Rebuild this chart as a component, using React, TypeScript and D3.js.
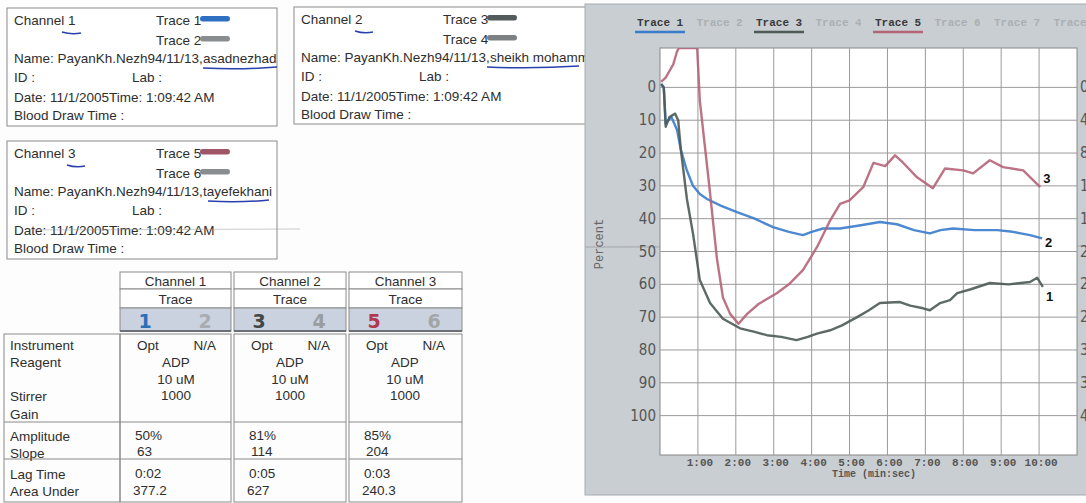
import React from 'react';
import * as d3 from 'd3';

// ---- chart data ----
const trace1Time = [0.03, 0.1, 0.15, 0.3, 0.45, 0.55, 0.7, 0.87, 1.05, 1.24, 1.6, 2.03, 2.5, 2.98, 3.4, 3.77, 4.0, 4.3, 4.75, 5.3, 5.8, 6.25, 6.7, 7.12, 7.4, 7.73, 8.3, 8.9, 9.3, 9.76, 10.08];
const trace1Pct = [-1, 0, 11, 9, 13, 19, 25, 30, 32.5, 34, 36, 38, 40, 42.6, 44, 45, 44, 43, 43, 42, 41, 41.7, 43.5, 44.5, 43.5, 43, 43.5, 43.5, 44, 45, 46];

const trace3Time = [0.03, 0.1, 0.15, 0.25, 0.4, 0.48, 0.55, 0.71, 0.87, 1.05, 1.32, 1.66, 2.11, 2.5, 2.82, 3.2, 3.6, 3.9, 4.14, 4.49, 4.8, 5.2, 5.5, 5.8, 6.33, 6.6, 6.94, 7.12, 7.39, 7.65, 7.84, 8.2, 8.7, 9.2, 9.76, 9.95, 10.1];
const trace3Pct = [-1, 0, 12, 9, 8, 10, 19, 34, 44.5, 58.7, 65.7, 70.5, 73.4, 74.5, 75.5, 76, 77, 76, 75, 74, 72.5, 70, 68, 65.7, 65.4, 66.5, 67.3, 67.9, 65.7, 64.8, 62.7, 61.5, 59.6, 60, 59.3, 58, 60.8];

const trace5Time = [0.03, 0.15, 0.25, 0.35, 0.45, 0.5, 0.98, 1.05, 1.3, 1.5, 1.66, 1.85, 2.07, 2.3, 2.6, 3.08, 3.4, 3.77, 4.14, 4.49, 4.75, 5.0, 5.36, 5.63, 5.94, 6.2, 6.4, 6.78, 7.2, 7.52, 8.0, 8.26, 8.7, 9.05, 9.58, 10.03];
const trace5Pct = [-1.7, -3, -5, -7, -11, -12, -12, 4, 30, 52, 64, 69, 72, 69, 66, 62.7, 60, 55.7, 48.7, 40.5, 35.5, 34.4, 30.4, 23, 24, 20.7, 22.8, 27.4, 30.7, 24.7, 25.3, 26.2, 22.2, 24.3, 25.3, 30.4];

const endLabels = ['2', '1', '3']; // labels printed next to trace 1, trace 3, trace 5 ends

const xTickValues = [1, 2, 3, 4, 5, 6, 7, 8, 9, 10];
const xTickLabels = ['1:00', '2:00', '3:00', '4:00', '5:00', '6:00', '7:00', '8:00', '9:00', '10:00'];
const yTickValues = [0, 10, 20, 30, 40, 50, 60, 70, 80, 90, 100];
const rightTickLabels = ['0', '4', '8', '12', '16', '20', '24', '28', '32', '36', '40'];
const legendLabels = ['Trace 1', 'Trace 2', 'Trace 3', 'Trace 4', 'Trace 5', 'Trace 6', 'Trace 7', 'Trace 8'];
const legendActive = [true, false, true, false, true, false, false, false];

// ---- header boxes ----
const channelNames = ['asadnezhad', 'sheikh mohammadi', 'tayefekhani'];
const channelTraces = [['Trace 1', 'Trace 2'], ['Trace 3', 'Trace 4'], ['Trace 5', 'Trace 6']];

// ---- table ----
const tableChannels = ['Channel 1', 'Channel 2', 'Channel 3'];
const traceNumbers = [['1', '2'], ['3', '4'], ['5', '6']];
const rowLabels = ['Instrument', 'Reagent', 'Stirrer', 'Gain', 'Amplitude', 'Slope', 'Lag Time', 'Area Under'];
const instruments = ['Opt', 'Opt', 'Opt'];
const instruments2 = ['N/A', 'N/A', 'N/A'];
const reagents = ['ADP', 'ADP', 'ADP'];
const concentrations = ['10 uM', '10 uM', '10 uM'];
const stirrers = ['1000', '1000', '1000'];
const amplitudes = ['50%', '81%', '85%'];
const slopes = ['63', '114', '204'];
const lagTimes = ['0:02', '0:05', '0:03'];
const areasUnder = ['377.2', '627', '240.3'];

const SANS = "'Liberation Sans', Arial, sans-serif";
const MONO = "'Liberation Mono', 'DejaVu Sans Mono', monospace";
const NARROW = "'Liberation Sans Narrow', 'DejaVu Sans Condensed', sans-serif";
const INK = '#2e2e2e';
const PEN = '#2a3fae';

const traceColors = ['#3a7ccc', '#4d5a55', '#b56478'];
const pillColors = [['#2f6fc2', '#8a8d90'], ['#555a5c', '#7d8183'], ['#a05566', '#8a8d90']];
const numColors = [['#2a6fb8', '#a9acaf'], ['#444748', '#9a9d9f'], ['#b0384f', '#a3a6a8']];

function InfoBox({ x0, y0, w, h, idx, underNum, underName }: any) {
  const lines = [17, 37, 55, 74, 94, 112];
  return (
    <g fontFamily={SANS} fontSize={13.5} fill={INK}>
      <rect x={x0} y={y0} width={w} height={h} fill="#fff" stroke="#8a8a8a" strokeWidth={1} />
      <text x={x0 + 7} y={y0 + lines[0]}>Channel {idx + 1}</text>
      <text x={x0 + 149} y={y0 + lines[0]}>{channelTraces[idx][0]}</text>
      <rect x={x0 + 193} y={y0 + 8} width={30} height={5.5} rx={2.7} fill={pillColors[idx][0]} />
      <text x={x0 + 149} y={y0 + lines[1]}>{channelTraces[idx][1]}</text>
      <rect x={x0 + 193} y={y0 + 28} width={30} height={5.5} rx={2.7} fill={pillColors[idx][1]} />
      <text x={x0 + 7} y={y0 + lines[2]}>Name: PayanKh.Nezh94/11/13,{channelNames[idx]}</text>
      <text x={x0 + 7} y={y0 + lines[3]}>ID  :</text>
      <text x={x0 + 125} y={y0 + lines[3]}>Lab  :</text>
      <text x={x0 + 7} y={y0 + lines[4]}>Date: 11/1/2005Time: 1:09:42 AM</text>
      <text x={x0 + 7} y={y0 + lines[5]}>Blood Draw Time :</text>
      <path d={`M${x0 + underNum[0]},${y0 + 24} q${(underNum[1] - underNum[0]) / 2},3 ${underNum[1] - underNum[0]},1`} fill="none" stroke={PEN} strokeWidth={1.5} />
      <path d={`M${x0 + underName[0]},${y0 + 60} q${(underName[1] - underName[0]) / 2},2 ${underName[1] - underName[0]},-1`} fill="none" stroke={PEN} strokeWidth={1.5} />
    </g>
  );
}

export default function App() {
  const x = d3.scaleLinear().domain([0, 11]).range([660, 1077]);
  const y = d3.scaleLinear().domain([-12, 112]).range([48, 455]);
  const line = d3.line<[number, number]>().x(d => x(d[0])).y(d => y(d[1])).curve(d3.curveLinear);

  const series = [
    { t: trace1Time, v: trace1Pct, color: traceColors[0], label: endLabels[0], dy: 9 },
    { t: trace3Time, v: trace3Pct, color: traceColors[1], label: endLabels[1], dy: 14 },
    { t: trace5Time, v: trace5Pct, color: traceColors[2], label: endLabels[2], dy: -4 },
  ];

  const colX = [120, 234, 349];
  const colW = [111, 112, 113];

  const [x0, x1] = x.range();
  const [yTop, yBot] = y.range();

  return (
    <svg width={1086} height={503} style={{ position: 'absolute', left: 0, top: 0, background: '#fff' }}>
      <rect x={0} y={0} width={1086} height={503} fill="#fdfdfd" />

      {/* Info boxes */}
      <InfoBox x0={7} y0={8} w={270} h={118} idx={0} underNum={[55, 74]} underName={[196, 270]} />
      <InfoBox x0={294} y0={7} w={310} h={117} idx={1} underNum={[61, 79]} underName={[193, 285]} />
      <InfoBox x0={7} y0={141} w={270} h={118} idx={2} underNum={[60, 78]} underName={[201, 262]} />
      <line x1={30} y1={230} x2={300} y2={229} stroke="#9a9a9a" strokeWidth={1} opacity={0.5} />

      {/* Table */}
      <g fontFamily={SANS} fontSize={13.5} fill={INK}>
        {tableChannels.map((c, i) => (
          <g key={c}>
            <rect x={colX[i]} y={272} width={colW[i]} height={17} fill="#fff" stroke="#8a8a8a" />
            <text x={colX[i] + colW[i] / 2} y={286} textAnchor="middle">{c}</text>
            <rect x={colX[i]} y={289} width={colW[i]} height={19} fill="#fff" stroke="#8a8a8a" />
            <text x={colX[i] + colW[i] / 2} y={304} textAnchor="middle">Trace</text>
            <rect x={colX[i]} y={308} width={colW[i]} height={23} fill="#cad2df" stroke="#8a8a8a" />
            <line x1={colX[i]} x2={colX[i] + colW[i]} y1={331} y2={331} stroke="#6c7076" strokeWidth={2} />
            <text x={colX[i] + 25} y={328} textAnchor="middle" fontFamily="'DejaVu Sans', sans-serif" fontWeight="bold" fontSize={19} fill={numColors[i][0]}>{traceNumbers[i][0]}</text>
            <text x={colX[i] + 85} y={328} textAnchor="middle" fontFamily="'DejaVu Sans', sans-serif" fontWeight="bold" fontSize={19} fill={numColors[i][1]}>{traceNumbers[i][1]}</text>
            {/* body */}
            <rect x={colX[i]} y={334} width={colW[i]} height={168} fill="none" stroke="#8a8a8a" />
            <line x1={colX[i]} x2={colX[i] + colW[i]} y1={422} y2={422} stroke="#8a8a8a" />
            <line x1={colX[i]} x2={colX[i] + colW[i]} y1={459} y2={459} stroke="#8a8a8a" />
            <text x={colX[i] + 17} y={350}>{instruments[i]}</text>
            <text x={colX[i] + 96} y={350} textAnchor="end">{instruments2[i]}</text>
            <text x={colX[i] + 56} y={367} textAnchor="middle">{reagents[i]}</text>
            <text x={colX[i] + 56} y={384} textAnchor="middle">{concentrations[i]}</text>
            <text x={colX[i] + 56} y={400} textAnchor="middle">{stirrers[i]}</text>
            <text x={colX[i] + 15} y={440}>{amplitudes[i]}</text>
            <text x={colX[i] + 17} y={456}>{slopes[i]}</text>
            <text x={colX[i] + 15} y={478}>{lagTimes[i]}</text>
            <text x={colX[i] + 13} y={495}>{areasUnder[i]}</text>
          </g>
        ))}
        <rect x={4} y={334} width={116} height={168} fill="none" stroke="#8a8a8a" />
        <line x1={4} x2={120} y1={422} y2={422} stroke="#8a8a8a" />
        <line x1={4} x2={120} y1={459} y2={459} stroke="#8a8a8a" />
        {rowLabels.map((r, i) => (
          <text key={r} x={10} y={[350, 367, 401, 419, 441, 458, 479, 496][i]}>{r}</text>
        ))}
      </g>

      {/* Chart panel */}
      <rect x={585} y={4} width={510} height={491} fill="#c9ced2" stroke="#a7acb0" />
      <line x1={585} x2={1086} y1={247} y2={246} stroke="#aeb2b5" strokeWidth={2} opacity={0.7} />

      {/* legend */}
      <g fontFamily={MONO} fontWeight="bold" fontSize={11}>
        {legendLabels.map((l, i) => (
          <g key={l}>
            <text x={637 + i * 59.5} y={26} fill={legendActive[i] ? '#3a3a3a' : '#aab0b4'}>{l}</text>
            {legendActive[i] && (
              <line x1={635 + i * 59.5} x2={685 + i * 59.5} y1={32} y2={32} stroke={traceColors[[0, 0, 1, 0, 2][i]]} strokeWidth={2.5} />
            )}
          </g>
        ))}
      </g>

      {/* plot area */}
      <rect x={x0} y={yTop} width={x1 - x0} height={yBot - yTop} fill="#fff" stroke="#888" />
      <defs>
        <clipPath id="plotClip">
          <rect x={x0} y={yTop} width={x1 - x0} height={yBot - yTop} />
        </clipPath>
      </defs>
      {d3.range(1, 11).map(t => (
        <line key={'v' + t} x1={x(t)} x2={x(t)} y1={yTop} y2={yBot} stroke="#9a9a9a" strokeWidth={1} />
      ))}
      {yTickValues.map(v => (
        <line key={'h' + v} x1={x0} x2={x1} y1={y(v)} y2={y(v)} stroke="#9a9a9a" strokeWidth={1} />
      ))}

      <g clipPath="url(#plotClip)">
        {series.map((s, i) => (
          <path key={i} d={line(s.t.map((t, j) => [t, s.v[j]] as [number, number])) || ''} fill="none" stroke={s.color} strokeWidth={2.4} strokeLinejoin="round" opacity={0.9} />
        ))}
      </g>

      {series.map((s, i) => (
        <text key={'l' + i} x={x(s.t[s.t.length - 1]) + 3} y={y(s.v[s.v.length - 1]) + s.dy} fontFamily={SANS} fontWeight="bold" fontSize={13} fill="#111">{s.label}</text>
      ))}

      {/* axes labels */}
      <g fontFamily={NARROW} fontSize={15} fill="#555">
        {yTickValues.map(v => (
          <text key={'yl' + v} x={656} y={y(v) + 5} textAnchor="end">{v}</text>
        ))}
        {yTickValues.map((v, i) => (
          <text key={'yr' + v} x={1080} y={y(v) + 5}>{rightTickLabels[i]}</text>
        ))}
      </g>
      <g fontFamily={MONO} fontWeight="bold" fontSize={11} fill="#555">
        {xTickValues.map((t, i) => (
          <text key={'xt' + t} x={x(t) + 2} y={466} textAnchor="middle">{xTickLabels[i]}</text>
        ))}
        <text x={874} y={477} textAnchor="middle" fontSize={10}>Time (min:sec)</text>
      </g>
      <text transform="translate(603,244) rotate(-90)" textAnchor="middle" fontFamily={MONO} fontSize={12} fill="#666">Percent</text>
    </svg>
  );
}
